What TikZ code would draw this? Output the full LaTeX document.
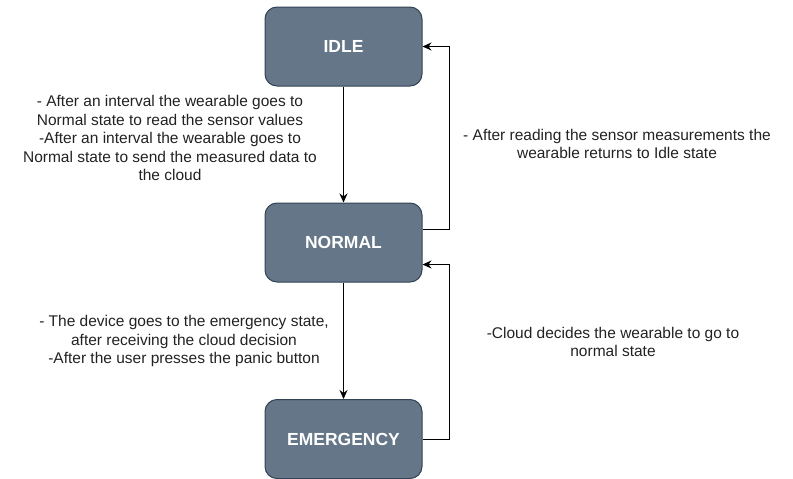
\documentclass[tikz,border=0pt]{standalone}
\usepackage{fontspec}
\setmainfont{Liberation Sans}
\usepackage{tikz}
\usetikzlibrary{arrows.meta, positioning, calc}
\definecolor{statefill}{HTML}{647687}
\definecolor{statedraw}{HTML}{314354}
\definecolor{labeltext}{HTML}{222222}

\begin{document}
\begin{tikzpicture}[x=1pt, y=-1pt,
  state/.style={draw=statedraw, fill=statefill, rounded corners=12pt, line width=1pt,
    minimum width=157pt, minimum height=79pt, inner sep=0pt, text=white,
    font=\fontsize{17.5}{20}\selectfont\bfseries},
  note/.style={align=center, text=labeltext, inner sep=0pt, font=\fontsize{15.5}{18.5}\selectfont},
  trans/.style={-{Stealth[length=9pt,width=8pt]}, line width=1pt}]
\useasboundingbox (0,0) rectangle (793,479);
% states
\node[state] (idle) at (343.5,46.5) {IDLE};
\node[state] (normal) at (343.5,242.5) {NORMAL};
\node[state] (emerg) at (343.5,439) {EMERGENCY};
\coordinate (rail) at (449,0);
\coordinate (nout) at ([yshift=13pt]normal.east);
\coordinate (nin) at ([yshift=-22pt]normal.east);
% transitions
\draw[trans] (idle.south) -- (normal.north);
\draw[trans] (normal.south) -- (emerg.north);
\draw[trans] (nout) -| (rail |- idle.east) -- (idle.east);
\draw[trans] (emerg.east) -| (rail |- nin) -- (nin);
% labels
\node[note] (idlelbl) at (170,138) {- After an interval the wearable goes to\\Normal state to read the sensor values\\-After an interval the wearable goes to\\Normal state to send the measured data to\\the cloud};
\node[note] (emerglbl) at (184,341) {- The device goes to the emergency state,\\after receiving the cloud decision\\-After the user presses the panic button};
\node[note] (backlbl) at (617,144) {- After reading the sensor measurements the\\wearable returns to Idle state};
\node[note] (cloudlbl) at (613,342) {-Cloud decides the wearable to go to\\normal state};
\end{tikzpicture}
\end{document}
